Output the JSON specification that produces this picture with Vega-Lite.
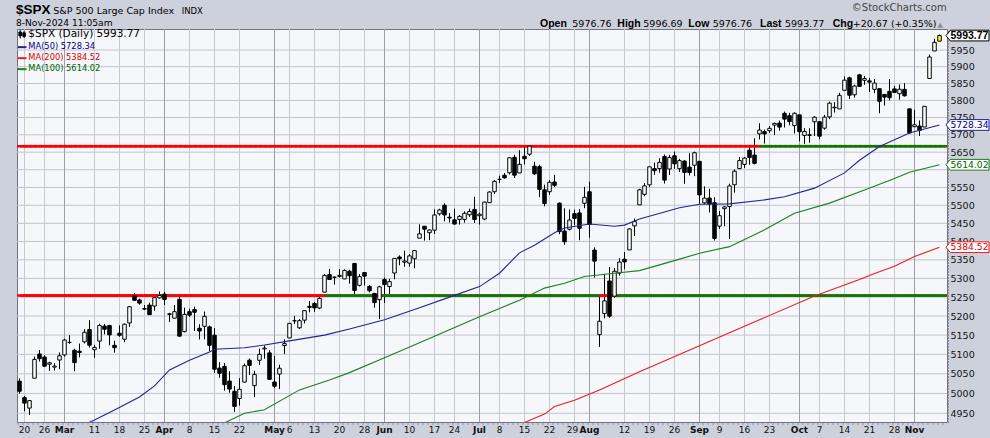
{
"$schema": "https://vega.github.io/schema/vega-lite/v6.json",
"width": 930, "height": 393,
"autosize": {"type": "none"},
"padding": {"left": 17, "top": 29, "right": 43, "bottom": 16},
"background": "#cdd1db",
"config": {"view": {"fill": "#f5f7fb", "stroke": "#6f7480", "strokeWidth": 1}, "font": "DejaVu Sans", "axis": {"title": null, "grid": false}},
"datasets": {
"hgrid": [{"g":4950},{"g":5000},{"g":5050},{"g":5100},{"g":5150},{"g":5200},{"g":5250},{"g":5300},{"g":5350},{"g":5400},{"g":5450},{"g":5500},{"g":5550},{"g":5600},{"g":5650},{"g":5700},{"g":5750},{"g":5800},{"g":5850},{"g":5900},{"g":5950}],
"vgrid": [{"d":"2024-02-20"},{"d":"2024-02-26"},{"d":"2024-03-01"},{"d":"2024-03-11"},{"d":"2024-03-18"},{"d":"2024-03-25"},{"d":"2024-04-01"},{"d":"2024-04-08"},{"d":"2024-04-15"},{"d":"2024-04-22"},{"d":"2024-05-01"},{"d":"2024-05-06"},{"d":"2024-05-13"},{"d":"2024-05-20"},{"d":"2024-05-28"},{"d":"2024-06-03"},{"d":"2024-06-10"},{"d":"2024-06-17"},{"d":"2024-06-24"},{"d":"2024-07-01"},{"d":"2024-07-08"},{"d":"2024-07-15"},{"d":"2024-07-22"},{"d":"2024-07-29"},{"d":"2024-08-01"},{"d":"2024-08-12"},{"d":"2024-08-19"},{"d":"2024-08-26"},{"d":"2024-09-03"},{"d":"2024-09-09"},{"d":"2024-09-16"},{"d":"2024-09-23"},{"d":"2024-10-01"},{"d":"2024-10-07"},{"d":"2024-10-14"},{"d":"2024-10-21"},{"d":"2024-10-28"},{"d":"2024-11-01"}],
"px": [
{"d":"2024-02-16","o":5031.13,"h":5038.70,"l":4999.52,"c":5005.57},
{"d":"2024-02-20","o":4989.32,"h":4993.71,"l":4955.02,"c":4975.51},
{"d":"2024-02-21","o":4963.03,"h":4983.21,"l":4946.00,"c":4981.80},
{"d":"2024-02-22","o":5038.83,"h":5094.39,"l":5038.83,"c":5087.03},
{"d":"2024-02-23","o":5100.92,"h":5111.06,"l":5081.46,"c":5088.80},
{"d":"2024-02-26","o":5093.00,"h":5097.66,"l":5068.91,"c":5069.53},
{"d":"2024-02-27","o":5074.60,"h":5080.69,"l":5057.29,"c":5078.18},
{"d":"2024-02-28","o":5067.20,"h":5077.37,"l":5058.35,"c":5069.76},
{"d":"2024-02-29","o":5085.36,"h":5104.99,"l":5061.89,"c":5096.27},
{"d":"2024-03-01","o":5098.51,"h":5140.33,"l":5094.16,"c":5137.08},
{"d":"2024-03-04","o":5130.99,"h":5149.67,"l":5127.18,"c":5130.95},
{"d":"2024-03-05","o":5110.52,"h":5114.54,"l":5056.82,"c":5078.65},
{"d":"2024-03-06","o":5108.03,"h":5127.97,"l":5092.22,"c":5104.76},
{"d":"2024-03-07","o":5132.38,"h":5165.62,"l":5128.21,"c":5157.36},
{"d":"2024-03-08","o":5164.46,"h":5189.26,"l":5117.50,"c":5123.69},
{"d":"2024-03-11","o":5111.96,"h":5124.66,"l":5091.14,"c":5117.94},
{"d":"2024-03-12","o":5134.30,"h":5179.87,"l":5114.48,"c":5175.27},
{"d":"2024-03-13","o":5173.49,"h":5179.14,"l":5151.88,"c":5165.31},
{"d":"2024-03-14","o":5175.14,"h":5176.85,"l":5123.30,"c":5150.48},
{"d":"2024-03-15","o":5123.31,"h":5135.33,"l":5104.35,"c":5117.09},
{"d":"2024-03-18","o":5154.77,"h":5175.60,"l":5145.47,"c":5149.42},
{"d":"2024-03-19","o":5139.09,"h":5180.31,"l":5131.59,"c":5178.51},
{"d":"2024-03-20","o":5181.69,"h":5226.19,"l":5171.55,"c":5224.62},
{"d":"2024-03-21","o":5253.43,"h":5261.10,"l":5240.66,"c":5241.53},
{"d":"2024-03-22","o":5242.48,"h":5246.09,"l":5229.87,"c":5234.18},
{"d":"2024-03-25","o":5219.52,"h":5229.09,"l":5216.09,"c":5218.19},
{"d":"2024-03-26","o":5228.85,"h":5235.16,"l":5203.42,"c":5203.58},
{"d":"2024-03-27","o":5226.31,"h":5249.26,"l":5213.92,"c":5248.49},
{"d":"2024-03-28","o":5248.03,"h":5264.85,"l":5245.82,"c":5254.35},
{"d":"2024-04-01","o":5257.97,"h":5263.95,"l":5229.20,"c":5243.77},
{"d":"2024-04-02","o":5204.29,"h":5208.34,"l":5184.05,"c":5205.81},
{"d":"2024-04-03","o":5194.37,"h":5228.75,"l":5194.37,"c":5211.49},
{"d":"2024-04-04","o":5244.05,"h":5256.59,"l":5146.06,"c":5147.21},
{"d":"2024-04-05","o":5158.95,"h":5222.18,"l":5157.21,"c":5204.34},
{"d":"2024-04-08","o":5211.37,"h":5219.57,"l":5197.35,"c":5202.39},
{"d":"2024-04-09","o":5217.03,"h":5224.81,"l":5160.78,"c":5209.91},
{"d":"2024-04-10","o":5167.88,"h":5178.43,"l":5138.70,"c":5160.64},
{"d":"2024-04-11","o":5172.95,"h":5211.78,"l":5138.77,"c":5199.06},
{"d":"2024-04-12","o":5171.51,"h":5175.03,"l":5107.94,"c":5123.41},
{"d":"2024-04-15","o":5149.67,"h":5168.43,"l":5052.47,"c":5061.82},
{"d":"2024-04-16","o":5064.59,"h":5079.84,"l":5039.83,"c":5051.41},
{"d":"2024-04-17","o":5068.97,"h":5077.96,"l":5007.25,"c":5022.21},
{"d":"2024-04-18","o":5031.52,"h":5056.66,"l":5001.89,"c":5011.12},
{"d":"2024-04-19","o":5005.44,"h":5019.02,"l":4953.56,"c":4967.23},
{"d":"2024-04-22","o":4987.33,"h":5038.84,"l":4969.40,"c":5010.60},
{"d":"2024-04-23","o":5028.85,"h":5076.12,"l":5027.96,"c":5070.55},
{"d":"2024-04-24","o":5084.86,"h":5089.48,"l":5047.02,"c":5071.63},
{"d":"2024-04-25","o":5019.88,"h":5057.75,"l":4990.58,"c":5048.42},
{"d":"2024-04-26","o":5084.65,"h":5114.62,"l":5073.14,"c":5099.96},
{"d":"2024-04-29","o":5114.13,"h":5123.49,"l":5088.65,"c":5116.17},
{"d":"2024-04-30","o":5103.78,"h":5110.83,"l":5035.31,"c":5035.69},
{"d":"2024-05-01","o":5029.03,"h":5096.12,"l":5013.45,"c":5018.39},
{"d":"2024-05-02","o":5049.32,"h":5073.21,"l":5011.05,"c":5064.20},
{"d":"2024-05-03","o":5122.78,"h":5139.12,"l":5101.22,"c":5127.79},
{"d":"2024-05-06","o":5142.42,"h":5181.00,"l":5142.42,"c":5180.74},
{"d":"2024-05-07","o":5187.20,"h":5200.23,"l":5178.96,"c":5187.70},
{"d":"2024-05-08","o":5168.98,"h":5191.95,"l":5165.86,"c":5187.67},
{"d":"2024-05-09","o":5189.03,"h":5215.30,"l":5180.41,"c":5214.08},
{"d":"2024-05-10","o":5225.49,"h":5239.66,"l":5209.68,"c":5222.68},
{"d":"2024-05-13","o":5233.08,"h":5237.26,"l":5211.16,"c":5221.42},
{"d":"2024-05-14","o":5221.10,"h":5250.37,"l":5217.98,"c":5246.68},
{"d":"2024-05-15","o":5263.26,"h":5311.76,"l":5263.26,"c":5308.15},
{"d":"2024-05-16","o":5310.07,"h":5325.49,"l":5296.19,"c":5297.10},
{"d":"2024-05-17","o":5303.10,"h":5305.45,"l":5283.59,"c":5303.27},
{"d":"2024-05-20","o":5305.35,"h":5325.32,"l":5302.40,"c":5308.13},
{"d":"2024-05-21","o":5298.69,"h":5324.32,"l":5297.87,"c":5321.41},
{"d":"2024-05-22","o":5319.28,"h":5323.18,"l":5286.01,"c":5307.01},
{"d":"2024-05-23","o":5340.26,"h":5341.88,"l":5256.93,"c":5267.84},
{"d":"2024-05-24","o":5281.45,"h":5311.65,"l":5278.39,"c":5304.72},
{"d":"2024-05-28","o":5315.91,"h":5315.91,"l":5280.89,"c":5306.04},
{"d":"2024-05-29","o":5278.73,"h":5282.27,"l":5262.70,"c":5266.95},
{"d":"2024-05-30","o":5259.77,"h":5260.21,"l":5222.10,"c":5235.48},
{"d":"2024-05-31","o":5243.21,"h":5280.33,"l":5191.68,"c":5277.51},
{"d":"2024-06-03","o":5297.15,"h":5302.11,"l":5234.32,"c":5283.40},
{"d":"2024-06-04","o":5278.24,"h":5298.80,"l":5257.63,"c":5291.34},
{"d":"2024-06-05","o":5314.48,"h":5354.16,"l":5297.64,"c":5354.03},
{"d":"2024-06-06","o":5357.80,"h":5362.35,"l":5335.36,"c":5352.96},
{"d":"2024-06-07","o":5343.81,"h":5375.08,"l":5331.33,"c":5346.99},
{"d":"2024-06-10","o":5341.22,"h":5365.79,"l":5331.52,"c":5360.79},
{"d":"2024-06-11","o":5353.00,"h":5375.95,"l":5327.25,"c":5375.32},
{"d":"2024-06-12","o":5409.13,"h":5447.25,"l":5409.13,"c":5421.03},
{"d":"2024-06-13","o":5441.93,"h":5441.93,"l":5402.51,"c":5433.74},
{"d":"2024-06-14","o":5424.08,"h":5432.39,"l":5403.75,"c":5431.60},
{"d":"2024-06-17","o":5431.11,"h":5488.50,"l":5420.40,"c":5473.23},
{"d":"2024-06-18","o":5476.15,"h":5490.38,"l":5471.32,"c":5487.03},
{"d":"2024-06-20","o":5499.99,"h":5505.53,"l":5455.56,"c":5473.17},
{"d":"2024-06-21","o":5466.77,"h":5478.31,"l":5452.03,"c":5464.62},
{"d":"2024-06-24","o":5459.58,"h":5490.66,"l":5447.59,"c":5447.87},
{"d":"2024-06-25","o":5460.73,"h":5472.88,"l":5446.56,"c":5469.30},
{"d":"2024-06-26","o":5460.71,"h":5483.14,"l":5451.87,"c":5477.90},
{"d":"2024-06-27","o":5473.59,"h":5490.81,"l":5467.54,"c":5482.87},
{"d":"2024-06-28","o":5488.48,"h":5523.64,"l":5451.12,"c":5460.48},
{"d":"2024-07-01","o":5471.08,"h":5479.55,"l":5446.53,"c":5475.09},
{"d":"2024-07-02","o":5461.84,"h":5509.69,"l":5458.43,"c":5509.01},
{"d":"2024-07-03","o":5507.44,"h":5539.27,"l":5507.42,"c":5537.02},
{"d":"2024-07-05","o":5537.91,"h":5570.33,"l":5531.63,"c":5567.19},
{"d":"2024-07-08","o":5572.75,"h":5583.11,"l":5562.51,"c":5572.85},
{"d":"2024-07-09","o":5584.24,"h":5590.75,"l":5574.57,"c":5576.98},
{"d":"2024-07-10","o":5591.26,"h":5635.39,"l":5586.44,"c":5633.91},
{"d":"2024-07-11","o":5635.21,"h":5642.45,"l":5576.53,"c":5584.54},
{"d":"2024-07-12","o":5590.76,"h":5655.56,"l":5590.44,"c":5615.35},
{"d":"2024-07-15","o":5638.16,"h":5666.94,"l":5614.75,"c":5631.22},
{"d":"2024-07-16","o":5644.09,"h":5669.67,"l":5639.02,"c":5667.20},
{"d":"2024-07-17","o":5610.07,"h":5622.49,"l":5584.81,"c":5588.27},
{"d":"2024-07-18","o":5608.56,"h":5614.05,"l":5522.81,"c":5544.59},
{"d":"2024-07-19","o":5543.37,"h":5557.50,"l":5497.04,"c":5505.00},
{"d":"2024-07-22","o":5537.83,"h":5570.36,"l":5529.04,"c":5564.41},
{"d":"2024-07-23","o":5565.30,"h":5585.34,"l":5550.90,"c":5555.74},
{"d":"2024-07-24","o":5505.84,"h":5508.04,"l":5419.98,"c":5427.13},
{"d":"2024-07-25","o":5428.70,"h":5491.59,"l":5390.95,"c":5399.22},
{"d":"2024-07-26","o":5433.67,"h":5488.32,"l":5430.70,"c":5459.10},
{"d":"2024-07-29","o":5476.55,"h":5487.74,"l":5444.44,"c":5463.54},
{"d":"2024-07-30","o":5478.73,"h":5489.46,"l":5403.41,"c":5436.44},
{"d":"2024-07-31","o":5505.59,"h":5551.51,"l":5491.78,"c":5522.30},
{"d":"2024-08-01","o":5537.84,"h":5566.16,"l":5410.42,"c":5446.68},
{"d":"2024-08-02","o":5376.63,"h":5383.89,"l":5302.03,"c":5346.56},
{"d":"2024-08-05","o":5151.14,"h":5250.89,"l":5119.26,"c":5186.33},
{"d":"2024-08-06","o":5206.42,"h":5312.34,"l":5193.56,"c":5240.03},
{"d":"2024-08-07","o":5293.13,"h":5330.64,"l":5195.54,"c":5199.50},
{"d":"2024-08-08","o":5252.57,"h":5328.03,"l":5248.39,"c":5319.31},
{"d":"2024-08-09","o":5314.30,"h":5354.49,"l":5307.44,"c":5344.16},
{"d":"2024-08-12","o":5351.89,"h":5371.20,"l":5324.37,"c":5344.39},
{"d":"2024-08-13","o":5376.98,"h":5436.50,"l":5376.98,"c":5434.43},
{"d":"2024-08-14","o":5442.82,"h":5463.22,"l":5415.33,"c":5455.21},
{"d":"2024-08-15","o":5501.13,"h":5546.23,"l":5501.13,"c":5543.22},
{"d":"2024-08-16","o":5530.50,"h":5561.98,"l":5525.17,"c":5554.25},
{"d":"2024-08-19","o":5557.23,"h":5608.30,"l":5550.74,"c":5608.25},
{"d":"2024-08-20","o":5602.88,"h":5620.51,"l":5585.50,"c":5597.12},
{"d":"2024-08-21","o":5603.09,"h":5632.68,"l":5591.57,"c":5620.85},
{"d":"2024-08-22","o":5637.77,"h":5643.22,"l":5560.95,"c":5570.64},
{"d":"2024-08-23","o":5602.00,"h":5641.82,"l":5585.16,"c":5634.61},
{"d":"2024-08-26","o":5639.66,"h":5651.62,"l":5602.34,"c":5616.84},
{"d":"2024-08-27","o":5602.89,"h":5631.18,"l":5593.48,"c":5625.80},
{"d":"2024-08-28","o":5624.51,"h":5627.03,"l":5560.20,"c":5592.18},
{"d":"2024-08-29","o":5607.30,"h":5646.95,"l":5583.71,"c":5591.96},
{"d":"2024-08-30","o":5612.74,"h":5651.37,"l":5581.79,"c":5648.40},
{"d":"2024-09-03","o":5623.89,"h":5623.89,"l":5504.33,"c":5528.93},
{"d":"2024-09-04","o":5506.68,"h":5552.99,"l":5503.66,"c":5520.07},
{"d":"2024-09-05","o":5520.08,"h":5546.30,"l":5480.08,"c":5503.41},
{"d":"2024-09-06","o":5507.33,"h":5522.47,"l":5402.62,"c":5408.42},
{"d":"2024-09-09","o":5442.07,"h":5484.20,"l":5434.49,"c":5471.05},
{"d":"2024-09-10","o":5490.51,"h":5497.91,"l":5441.72,"c":5495.52},
{"d":"2024-09-11","o":5496.42,"h":5560.41,"l":5406.96,"c":5554.13},
{"d":"2024-09-12","o":5557.48,"h":5600.71,"l":5535.50,"c":5595.76},
{"d":"2024-09-13","o":5603.34,"h":5636.27,"l":5601.65,"c":5626.02},
{"d":"2024-09-16","o":5615.21,"h":5636.05,"l":5604.53,"c":5633.09},
{"d":"2024-09-17","o":5655.51,"h":5670.81,"l":5614.05,"c":5634.58},
{"d":"2024-09-18","o":5641.68,"h":5689.75,"l":5615.08,"c":5618.26},
{"d":"2024-09-19","o":5702.63,"h":5733.57,"l":5686.42,"c":5713.64},
{"d":"2024-09-20","o":5709.20,"h":5715.14,"l":5674.49,"c":5702.55},
{"d":"2024-09-23","o":5711.90,"h":5725.36,"l":5704.94,"c":5718.57},
{"d":"2024-09-24","o":5727.94,"h":5735.32,"l":5698.99,"c":5732.93},
{"d":"2024-09-25","o":5733.65,"h":5741.03,"l":5712.06,"c":5722.26},
{"d":"2024-09-26","o":5762.22,"h":5767.37,"l":5721.01,"c":5745.37},
{"d":"2024-09-27","o":5755.36,"h":5763.78,"l":5727.34,"c":5738.17},
{"d":"2024-09-30","o":5726.52,"h":5765.14,"l":5703.53,"c":5762.48},
{"d":"2024-10-01","o":5757.73,"h":5757.73,"l":5681.28,"c":5708.75},
{"d":"2024-10-02","o":5698.19,"h":5719.14,"l":5674.00,"c":5709.54},
{"d":"2024-10-03","o":5698.18,"h":5718.78,"l":5677.37,"c":5699.94},
{"d":"2024-10-04","o":5737.67,"h":5753.79,"l":5696.46,"c":5751.07},
{"d":"2024-10-07","o":5737.80,"h":5739.34,"l":5686.85,"c":5695.94},
{"d":"2024-10-08","o":5719.14,"h":5757.60,"l":5714.56,"c":5751.13},
{"d":"2024-10-09","o":5751.80,"h":5796.80,"l":5745.02,"c":5792.04},
{"d":"2024-10-10","o":5778.36,"h":5795.03,"l":5764.76,"c":5780.05},
{"d":"2024-10-11","o":5775.09,"h":5822.13,"l":5775.09,"c":5815.03},
{"d":"2024-10-14","o":5829.81,"h":5871.41,"l":5829.81,"c":5859.85},
{"d":"2024-10-15","o":5866.74,"h":5870.36,"l":5804.48,"c":5815.26},
{"d":"2024-10-16","o":5816.58,"h":5846.52,"l":5808.34,"c":5842.47},
{"d":"2024-10-17","o":5875.62,"h":5878.46,"l":5840.25,"c":5841.47},
{"d":"2024-10-18","o":5859.43,"h":5872.17,"l":5846.11,"c":5864.67},
{"d":"2024-10-21","o":5857.82,"h":5866.92,"l":5824.82,"c":5853.98},
{"d":"2024-10-22","o":5832.70,"h":5863.04,"l":5821.17,"c":5851.20},
{"d":"2024-10-23","o":5834.50,"h":5834.85,"l":5762.41,"c":5797.42},
{"d":"2024-10-24","o":5817.80,"h":5817.80,"l":5784.92,"c":5809.86},
{"d":"2024-10-25","o":5826.75,"h":5862.82,"l":5799.98,"c":5808.12},
{"d":"2024-10-28","o":5833.93,"h":5842.92,"l":5823.08,"c":5823.52},
{"d":"2024-10-29","o":5819.68,"h":5847.19,"l":5802.17,"c":5832.92},
{"d":"2024-10-30","o":5832.65,"h":5850.94,"l":5811.28,"c":5813.67},
{"d":"2024-10-31","o":5775.34,"h":5775.34,"l":5702.86,"c":5705.45},
{"d":"2024-11-01","o":5723.22,"h":5772.52,"l":5723.22,"c":5728.80},
{"d":"2024-11-04","o":5725.15,"h":5741.43,"l":5696.51,"c":5712.69},
{"d":"2024-11-05","o":5722.43,"h":5783.44,"l":5722.10,"c":5782.76},
{"d":"2024-11-06","o":5864.89,"h":5936.14,"l":5864.89,"c":5929.04},
{"d":"2024-11-07","o":5947.21,"h":5983.84,"l":5947.21,"c":5973.10},
{"d":"2024-11-08","o":5976.76,"h":5996.69,"l":5976.76,"c":5993.77}
],
"ma": [
{"d":"2024-03-01","s":"MA(50)","v":4900},{"d":"2024-03-11","s":"MA(50)","v":4933},{"d":"2024-03-15","s":"MA(50)","v":4958},{"d":"2024-03-22","s":"MA(50)","v":4991},{"d":"2024-03-27","s":"MA(50)","v":5019},{"d":"2024-04-02","s":"MA(50)","v":5060},{"d":"2024-04-08","s":"MA(50)","v":5085},{"d":"2024-04-12","s":"MA(50)","v":5106},{"d":"2024-04-15","s":"MA(50)","v":5113},{"d":"2024-04-23","s":"MA(50)","v":5117},{"d":"2024-04-29","s":"MA(50)","v":5124},{"d":"2024-05-06","s":"MA(50)","v":5135},{"d":"2024-05-15","s":"MA(50)","v":5150},{"d":"2024-05-22","s":"MA(50)","v":5166},{"d":"2024-06-03","s":"MA(50)","v":5190},{"d":"2024-06-12","s":"MA(50)","v":5222},{"d":"2024-06-21","s":"MA(50)","v":5250},{"d":"2024-07-01","s":"MA(50)","v":5278},{"d":"2024-07-08","s":"MA(50)","v":5314},{"d":"2024-07-12","s":"MA(50)","v":5369},{"d":"2024-07-17","s":"MA(50)","v":5390},{"d":"2024-07-23","s":"MA(50)","v":5424},{"d":"2024-07-25","s":"MA(50)","v":5437},{"d":"2024-08-01","s":"MA(50)","v":5448},{"d":"2024-08-08","s":"MA(50)","v":5442},{"d":"2024-08-12","s":"MA(50)","v":5445},{"d":"2024-08-15","s":"MA(50)","v":5462},{"d":"2024-08-27","s":"MA(50)","v":5493},{"d":"2024-09-03","s":"MA(50)","v":5503},{"d":"2024-09-11","s":"MA(50)","v":5504},{"d":"2024-09-20","s":"MA(50)","v":5515},{"d":"2024-09-26","s":"MA(50)","v":5524},{"d":"2024-10-04","s":"MA(50)","v":5548},{"d":"2024-10-14","s":"MA(50)","v":5591},{"d":"2024-10-17","s":"MA(50)","v":5627},{"d":"2024-10-23","s":"MA(50)","v":5666},{"d":"2024-10-31","s":"MA(50)","v":5705},{"d":"2024-11-08","s":"MA(50)","v":5728.34},
{"d":"2024-04-12","s":"MA(100)","v":4908},{"d":"2024-04-23","s":"MA(100)","v":4950},{"d":"2024-04-29","s":"MA(100)","v":4959},{"d":"2024-05-08","s":"MA(100)","v":5009},{"d":"2024-05-16","s":"MA(100)","v":5034},{"d":"2024-05-22","s":"MA(100)","v":5053},{"d":"2024-06-03","s":"MA(100)","v":5091},{"d":"2024-06-12","s":"MA(100)","v":5130},{"d":"2024-06-21","s":"MA(100)","v":5164},{"d":"2024-07-01","s":"MA(100)","v":5198},{"d":"2024-07-08","s":"MA(100)","v":5220},{"d":"2024-07-12","s":"MA(100)","v":5242},{"d":"2024-07-19","s":"MA(100)","v":5274},{"d":"2024-07-25","s":"MA(100)","v":5287},{"d":"2024-07-31","s":"MA(100)","v":5305},{"d":"2024-08-08","s":"MA(100)","v":5314},{"d":"2024-08-15","s":"MA(100)","v":5321},{"d":"2024-08-27","s":"MA(100)","v":5352},{"d":"2024-09-03","s":"MA(100)","v":5368},{"d":"2024-09-11","s":"MA(100)","v":5386},{"d":"2024-09-20","s":"MA(100)","v":5432},{"d":"2024-09-30","s":"MA(100)","v":5478},{"d":"2024-10-09","s":"MA(100)","v":5506},{"d":"2024-10-18","s":"MA(100)","v":5543},{"d":"2024-10-28","s":"MA(100)","v":5575},{"d":"2024-10-31","s":"MA(100)","v":5593},{"d":"2024-11-08","s":"MA(100)","v":5614.02},
{"d":"2024-07-05","s":"MA(200)","v":4900},{"d":"2024-07-15","s":"MA(200)","v":4927},{"d":"2024-07-19","s":"MA(200)","v":4948},{"d":"2024-07-23","s":"MA(200)","v":4967},{"d":"2024-07-29","s":"MA(200)","v":4983},{"d":"2024-08-05","s":"MA(200)","v":5009},{"d":"2024-08-15","s":"MA(200)","v":5055},{"d":"2024-09-03","s":"MA(200)","v":5122},{"d":"2024-09-19","s":"MA(200)","v":5190},{"d":"2024-10-04","s":"MA(200)","v":5253},{"d":"2024-10-17","s":"MA(200)","v":5297},{"d":"2024-10-22","s":"MA(200)","v":5313},{"d":"2024-10-28","s":"MA(200)","v":5333},{"d":"2024-11-01","s":"MA(200)","v":5359},{"d":"2024-11-08","s":"MA(200)","v":5384.52}
],
"tags": [
{"s":"$SPX (Daily)","v":5993.77},{"s":"MA(50)","v":5728.34},{"s":"MA(100)","v":5614.02},{"s":"MA(200)","v":5384.52}
]
},
"layer": [
{
"data": {"name": "hgrid"},
"mark": {"type": "rule", "color": "#bfc3cc", "strokeWidth": 1},
"encoding": {"y": {"field": "g", "type": "quantitative",
"scale": {"type": "log", "domain": [4928.2, 6013.7], "nice": false, "zero": false},
"axis": {"title": null, "orient": "right", "values": [4950,5000,5050,5100,5150,5200,5250,5300,5350,5400,5450,5500,5550,5650,5700,5750,5800,5850,5900,5950], "format": "d", "grid": false, "ticks": false, "domain": true, "domainColor": "#555a66", "domainDash": [1, 2], "offset": 1, "labelFont": "DejaVu Sans", "labelFontSize": 9.5, "labelColor": "#111111", "labelPadding": 2, "labelAlign": "left", "labelBaseline": "middle", "labelOverlap": false}}}
},
{
"data": {"name": "vgrid"},
"mark": {"type": "rule", "strokeWidth": 1},
"encoding": {
"x": {"field": "d", "type": "ordinal",
"scale": {"type": "band", "paddingInner": 0, "paddingOuter": 0.5, "align": 0},
"axis": {"title": null, "values": ["2024-02-20","2024-02-26","2024-03-01","2024-03-11","2024-03-18","2024-03-25","2024-04-01","2024-04-08","2024-04-15","2024-04-22","2024-05-01","2024-05-06","2024-05-13","2024-05-20","2024-05-28","2024-06-03","2024-06-10","2024-06-17","2024-06-24","2024-07-01","2024-07-08","2024-07-15","2024-07-22","2024-07-29","2024-08-01","2024-08-12","2024-08-19","2024-08-26","2024-09-03","2024-09-09","2024-09-16","2024-09-23","2024-10-01","2024-10-07","2024-10-14","2024-10-21","2024-10-28","2024-11-01"],
"labelExpr": "indexof(['2024-03-01','2024-04-01','2024-05-01','2024-06-03','2024-07-01','2024-08-01','2024-09-03','2024-10-01','2024-11-01'], datum.value) >= 0 ? ['Jan','Feb','Mar','Apr','May','Jun','Jul','Aug','Sep','Oct','Nov','Dec'][toNumber(slice(datum.value,5,7))-1] : '' + toNumber(slice(datum.value,8))",
"bandPosition": 0.5, "grid": false,
"labelFontWeight": {"condition": {"test": "indexof(['2024-03-01','2024-04-01','2024-05-01','2024-06-03','2024-07-01','2024-08-01','2024-09-03','2024-10-01','2024-11-01'], datum.value) >= 0", "value": "bold"}, "value": "normal"},
"labelOffset": {"condition": {"test": "datum.value == '2024-07-29'", "value": -2}, "value": 0},
"ticks": false, "domain": true, "domainColor": "#555a66", "domainDash": [1, 4], "offset": 1.5, "labelAngle": 0, "labelFont": "DejaVu Sans", "labelFontSize": 9, "labelColor": "#111111", "labelPadding": 2, "labelOverlap": false}},
"color": {"condition": {"test": "indexof(['2024-03-01','2024-04-01','2024-05-01','2024-06-03','2024-07-01','2024-08-01','2024-09-03','2024-10-01','2024-11-01'], datum.d) >= 0", "value": "#9a9fab"}, "value": "#c6cad2"}
}
},
{
"data": {"name": "px"},
"mark": {"type": "rule", "color": "#000000", "strokeWidth": 1},
"encoding": {
"x": {"field": "d", "type": "ordinal"},
"y": {"field": "l", "type": "quantitative"},
"y2": {"field": "h"}
}
},
{
"data": {"values": [{}]},
"mark": {"type": "rule", "color": "#ff0000", "strokeWidth": 2.5},
"encoding": {"y": {"datum": 5254, "type": "quantitative"}}
},
{
"data": {"values": [{}]},
"mark": {"type": "rule", "color": "#ff0000", "strokeWidth": 2.5},
"encoding": {"y": {"datum": 5667.2, "type": "quantitative"}}
},
{
"data": {"name": "px"},
"mark": {"type": "tick", "orient": "horizontal", "size": 7, "thickness": 2.5, "xOffset": 3.5, "opacity": 1},
"encoding": {
"x": {"field": "d", "type": "ordinal"},
"y": {"datum": 5254, "type": "quantitative"},
"color": {"condition": {"test": "datum.c > 5254", "value": "#008000"}, "value": "#ff0000"}
}
},
{
"data": {"name": "px"},
"mark": {"type": "tick", "orient": "horizontal", "size": 7, "thickness": 2.5, "xOffset": 3.5, "opacity": 1},
"encoding": {
"x": {"field": "d", "type": "ordinal"},
"y": {"datum": 5667.2, "type": "quantitative"},
"color": {"condition": {"test": "datum.c > 5667.2", "value": "#008000"}, "value": "#ff0000"}
}
},
{
"data": {"name": "px"},
"mark": {"type": "bar", "width": {"band": 0.7}, "stroke": "#000000", "strokeWidth": 1, "opacity": 1},
"encoding": {
"x": {"field": "d", "type": "ordinal"},
"y": {"field": "o", "type": "quantitative"},
"y2": {"field": "c"},
"fill": {"condition": [{"test": "datum.d == '2024-11-08'", "value": "#ffff00"}, {"test": "datum.c >= datum.o", "value": "#ffffff"}], "value": "#000000"}
}
},
{
"data": {"name": "ma"},
"mark": {"type": "line", "strokeWidth": 1.1, "clip": true},
"encoding": {
"x": {"field": "d", "type": "ordinal"},
"y": {"field": "v", "type": "quantitative"},
"color": {"field": "s", "type": "nominal",
"scale": {"domain": ["$SPX (Daily)","MA(50)","MA(200)","MA(100)"], "range": ["#000000","#232399","#ee1c1c","#1f7f1f"]},
"legend": {"title": null, "orient": "top-left", "offset": 1, "padding": 0, "rowPadding": 1, "symbolType": "stroke", "symbolSize": 75, "symbolStrokeWidth": 2, "labelFont": "DejaVu Sans", "labelFontSize": 8.3, "labelOffset": 2, "labelLimit": 300,
"labelExpr": "datum.label == '$SPX (Daily)' ? '$SPX (Daily) 5993.77' : datum.label == 'MA(50)' ? 'MA(50) 5728.34' : datum.label == 'MA(200)' ? 'MA(200) 5384.52' : 'MA(100) 5614.02'",
"encode": {
"labels": {"update": {"fill": {"signal": "datum.value == 'MA(50)' ? '#000080' : datum.value == 'MA(200)' ? '#dd0000' : datum.value == 'MA(100)' ? '#006400' : '#000000'"}, "fontSize": {"signal": "datum.value == '$SPX (Daily)' ? 10.5 : 8.3"}}},
"symbols": {"update": {"shape": {"signal": "datum.value == '$SPX (Daily)' ? 'M-0.45,-1V1M-0.75,-0.5H-0.15V0.4H-0.75ZM0.45,-0.8V0.9M0.15,-0.3H0.75V0.5H0.15Z' : 'stroke'"}, "strokeWidth": {"signal": "datum.value == '$SPX (Daily)' ? 1 : 2"}}}
}}
}
}
},
{
"data": {"name": "tags"},
"mark": {"type": "point", "shape": "M-1,0L-0.8,-0.25L1,-0.25L1,0.25L-0.8,0.25Z", "size": 1849, "filled": true, "fill": "#ffffff", "strokeWidth": 1, "opacity": 1, "xOffset": 28},
"encoding": {
"x": {"datum": "2024-11-08", "type": "ordinal"},
"y": {"field": "v", "type": "quantitative"},
"stroke": {"field": "s", "type": "nominal", "legend": null, "scale": {"domain": ["$SPX (Daily)","MA(50)","MA(200)","MA(100)"], "range": ["#000000","#232399","#ee1c1c","#1f7f1f"]}}
}
},
{
"data": {"name": "tags"},
"transform": [{"filter": "datum.s == '$SPX (Daily)'"}],
"mark": {"type": "text", "align": "left", "baseline": "middle", "dx": 11, "font": "Liberation Sans", "fontSize": 10.5, "fontWeight": "bold", "color": "#000000"},
"encoding": {
"x": {"datum": "2024-11-08", "type": "ordinal"},
"y": {"field": "v", "type": "quantitative"},
"text": {"field": "v", "type": "quantitative", "format": ".2f"}
}
},
{
"data": {"name": "tags"},
"transform": [{"filter": "datum.s != '$SPX (Daily)'"}],
"mark": {"type": "text", "align": "left", "baseline": "middle", "dx": 11, "font": "DejaVu Sans", "fontSize": 9.2},
"encoding": {
"x": {"datum": "2024-11-08", "type": "ordinal"},
"y": {"field": "v", "type": "quantitative"},
"text": {"field": "v", "type": "quantitative", "format": ".2f"},
"fill": {"field": "s", "type": "nominal", "legend": null, "scale": {"domain": ["$SPX (Daily)","MA(50)","MA(200)","MA(100)"], "range": ["#000000","#000080","#dd0000","#006400"]}}
}
},
{"data": {"values": [{}]}, "mark": {"type": "text", "text": "$SPX", "align": "left", "baseline": "alphabetic", "dx": -3.5, "font": "Liberation Sans", "fontSize": 13.5, "fontWeight": "bold", "color": "#000000"},
"encoding": {"x": {"datum": "2024-02-16", "type": "ordinal"}, "y": {"datum": 6059.6, "type": "quantitative"}}},
{"data": {"values": [{}]}, "mark": {"type": "text", "text": "S&P 500 Large Cap Index", "align": "left", "baseline": "alphabetic", "dx": 33.8, "font": "DejaVu Sans", "fontSize": 9.5, "color": "#000000"},
"encoding": {"x": {"datum": "2024-02-16", "type": "ordinal"}, "y": {"datum": 6059.6, "type": "quantitative"}}},
{"data": {"values": [{}]}, "mark": {"type": "text", "text": "INDX", "align": "left", "baseline": "alphabetic", "dx": 162.2, "font": "DejaVu Sans", "fontSize": 8.5, "color": "#000000"},
"encoding": {"x": {"datum": "2024-02-16", "type": "ordinal"}, "y": {"datum": 6059.6, "type": "quantitative"}}},
{"data": {"values": [{}]}, "mark": {"type": "text", "text": "8-Nov-2024 11:05am", "align": "left", "baseline": "alphabetic", "dx": -3.5, "font": "DejaVu Sans", "fontSize": 9.1, "color": "#000000"},
"encoding": {"x": {"datum": "2024-02-16", "type": "ordinal"}, "y": {"datum": 6022.8, "type": "quantitative"}}},
{"data": {"values": [{}]}, "mark": {"type": "text", "text": "©StockCharts.com", "align": "right", "baseline": "alphabetic", "dx": 927.2, "font": "DejaVu Sans", "fontSize": 10, "color": "#444444"},
"encoding": {"x": {"datum": "2024-02-16", "type": "ordinal"}, "y": {"datum": 6068.8, "type": "quantitative"}}},
{"data": {"values": [{}]}, "mark": {"type": "text", "text": "Open", "align": "left", "baseline": "alphabetic", "dx": 520.5, "font": "Liberation Sans", "fontSize": 10.5, "fontWeight": "bold", "color": "#000000"},
"encoding": {"x": {"datum": "2024-02-16", "type": "ordinal"}, "y": {"datum": 6021.3, "type": "quantitative"}}},
{"data": {"values": [{}]}, "mark": {"type": "text", "text": "5976.76", "align": "left", "baseline": "alphabetic", "dx": 552.8, "font": "DejaVu Sans", "fontSize": 9.5, "color": "#000000"},
"encoding": {"x": {"datum": "2024-02-16", "type": "ordinal"}, "y": {"datum": 6021.3, "type": "quantitative"}}},
{"data": {"values": [{}]}, "mark": {"type": "text", "text": "High", "align": "left", "baseline": "alphabetic", "dx": 597.8, "font": "Liberation Sans", "fontSize": 10.5, "fontWeight": "bold", "color": "#000000"},
"encoding": {"x": {"datum": "2024-02-16", "type": "ordinal"}, "y": {"datum": 6021.3, "type": "quantitative"}}},
{"data": {"values": [{}]}, "mark": {"type": "text", "text": "5996.69", "align": "left", "baseline": "alphabetic", "dx": 623.8, "font": "DejaVu Sans", "fontSize": 9.5, "color": "#000000"},
"encoding": {"x": {"datum": "2024-02-16", "type": "ordinal"}, "y": {"datum": 6021.3, "type": "quantitative"}}},
{"data": {"values": [{}]}, "mark": {"type": "text", "text": "Low", "align": "left", "baseline": "alphabetic", "dx": 668.8, "font": "Liberation Sans", "fontSize": 10.5, "fontWeight": "bold", "color": "#000000"},
"encoding": {"x": {"datum": "2024-02-16", "type": "ordinal"}, "y": {"datum": 6021.3, "type": "quantitative"}}},
{"data": {"values": [{}]}, "mark": {"type": "text", "text": "5976.76", "align": "left", "baseline": "alphabetic", "dx": 693.2, "font": "DejaVu Sans", "fontSize": 9.5, "color": "#000000"},
"encoding": {"x": {"datum": "2024-02-16", "type": "ordinal"}, "y": {"datum": 6021.3, "type": "quantitative"}}},
{"data": {"values": [{}]}, "mark": {"type": "text", "text": "Last", "align": "left", "baseline": "alphabetic", "dx": 740.5, "font": "Liberation Sans", "fontSize": 10.5, "fontWeight": "bold", "color": "#000000"},
"encoding": {"x": {"datum": "2024-02-16", "type": "ordinal"}, "y": {"datum": 6021.3, "type": "quantitative"}}},
{"data": {"values": [{}]}, "mark": {"type": "text", "text": "5993.77", "align": "left", "baseline": "alphabetic", "dx": 765.5, "font": "DejaVu Sans", "fontSize": 9.5, "color": "#000000"},
"encoding": {"x": {"datum": "2024-02-16", "type": "ordinal"}, "y": {"datum": 6021.3, "type": "quantitative"}}},
{"data": {"values": [{}]}, "mark": {"type": "text", "text": "Chg", "align": "left", "baseline": "alphabetic", "dx": 813.2, "font": "Liberation Sans", "fontSize": 10.5, "fontWeight": "bold", "color": "#000000"},
"encoding": {"x": {"datum": "2024-02-16", "type": "ordinal"}, "y": {"datum": 6021.3, "type": "quantitative"}}},
{"data": {"values": [{}]}, "mark": {"type": "text", "text": "+20.67 (+0.35%)", "align": "left", "baseline": "alphabetic", "dx": 833.2, "font": "DejaVu Sans", "fontSize": 9.5, "color": "#000000"},
"encoding": {"x": {"datum": "2024-02-16", "type": "ordinal"}, "y": {"datum": 6021.3, "type": "quantitative"}}},
{"data": {"values": [{}]}, "mark": {"type": "text", "text": "▲", "align": "left", "baseline": "alphabetic", "dx": 918, "font": "DejaVu Sans", "fontSize": 7, "color": "#8a8f99"},
"encoding": {"x": {"datum": "2024-02-16", "type": "ordinal"}, "y": {"datum": 6021.3, "type": "quantitative"}}}
]
}
